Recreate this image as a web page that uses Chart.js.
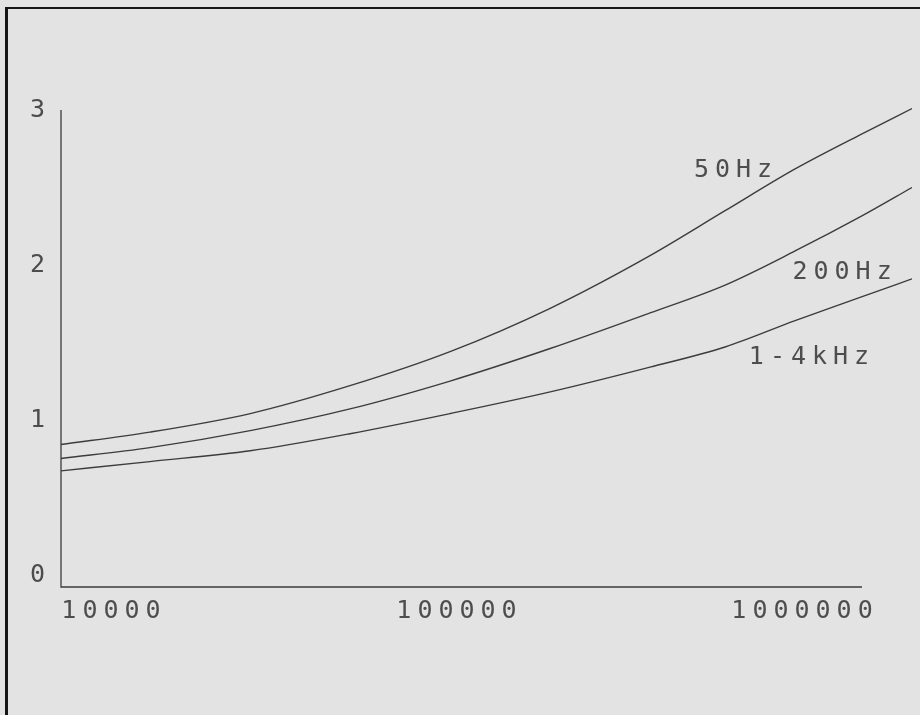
<!DOCTYPE html>
<html>
<head>
<meta charset="utf-8">
<script src="https://cdn.jsdelivr.net/npm/chart.js@4.4.1/dist/chart.umd.min.js"></script>
<style>
  html, body { margin: 0; padding: 0; background: #e3e3e3; }
  #wrap { position: relative; width: 920px; height: 715px; overflow: hidden; }
  #frame { position: absolute; left: 5px; top: 7px; width: 930px; height: 730px;
           border-left: 3px solid #151515; border-top: 2px solid #151515; }
  #c { position: absolute; left: 0; top: 0; }
</style>
</head>
<body>
<div id="wrap">
  <div id="frame"></div>
  <canvas id="c" width="920" height="715"></canvas>
</div>
<script>
// Frequency (x, log) sample points
const xValues = [7025, 12700, 24800, 48200, 93900, 183000, 356000, 587000, 936000, 1443000, 2040000];

// One curve per test frequency
const series50Hz  = [0.92, 1.00, 1.12, 1.30, 1.52, 1.80, 2.14, 2.43, 2.70, 2.92, 3.09];
const series200Hz = [0.83, 0.90, 1.01, 1.15, 1.33, 1.54, 1.77, 1.95, 2.17, 2.39, 2.58];
const series1to4k = [0.75, 0.81, 0.88, 0.99, 1.12, 1.26, 1.42, 1.55, 1.72, 1.87, 1.99];

const seriesNames = ['50Hz', '200Hz', '1-4kHz'];

// Tick values
const xTicks = [10000, 100000, 1000000];
const yTicks = [0, 1, 2, 3];

// Curve captions, placed in data coordinates
const captionX = [619000, 1280000, 1027000];
const captionY = [2.69, 2.03, 1.48];

// Extent of the drawn axis lines
const AXIS_X_END = 1462000;
const AXIS_Y_TOP = 3.08;

const INK = '#3c3c3c';
const TEXT = '#4d4d4d';
const FONT = "'DejaVu Sans Mono', monospace";

const toPoints = (ys) => ys.map((y, i) => ({ x: xValues[i], y }));

const spacing = {
  id: 'spacing',
  beforeDraw(chart) { chart.ctx.letterSpacing = '6px'; }
};

const axisLines = {
  id: 'axisLines',
  beforeDatasetsDraw(chart) {
    const { ctx, scales: { x, y } } = chart;
    const left = x.getPixelForValue(x.min);
    const bottom = y.getPixelForValue(0);
    ctx.save();
    ctx.strokeStyle = INK;
    ctx.lineWidth = 1.3;
    ctx.beginPath();
    ctx.moveTo(left, y.getPixelForValue(AXIS_Y_TOP));
    ctx.lineTo(left, bottom);
    ctx.lineTo(x.getPixelForValue(AXIS_X_END), bottom);
    ctx.stroke();
    ctx.restore();
  }
};

const captions = {
  id: 'captions',
  afterDatasetsDraw(chart) {
    const { ctx, scales: { x, y } } = chart;
    ctx.save();
    ctx.fillStyle = TEXT;
    ctx.font = "25px " + FONT;
    ctx.letterSpacing = '6px';
    ctx.textAlign = 'center';
    ctx.textBaseline = 'middle';
    seriesNames.forEach((name, i) => {
      ctx.fillText(name, x.getPixelForValue(captionX[i]) + 3, y.getPixelForValue(captionY[i]));
    });
    ctx.restore();
  }
};

const lineStyle = {
  borderColor: INK,
  borderWidth: 1.4,
  pointRadius: 0,
  fill: false,
  cubicInterpolationMode: 'monotone'
};

new Chart(document.getElementById('c'), {
  type: 'line',
  data: {
    datasets: [
      { label: seriesNames[0], data: toPoints(series50Hz), ...lineStyle },
      { label: seriesNames[1], data: toPoints(series200Hz), ...lineStyle },
      { label: seriesNames[2], data: toPoints(series1to4k), ...lineStyle }
    ]
  },
  options: {
    responsive: false,
    animation: false,
    devicePixelRatio: 1,
    layout: { padding: { top: 76, right: 8, left: 0, bottom: 0 } },
    plugins: { legend: { display: false }, tooltip: { enabled: false } },
    scales: {
      x: {
        type: 'logarithmic',
        min: 7025,
        max: 2040000,
        border: { display: false },
        grid: { display: false, drawTicks: false },
        afterBuildTicks: (s) => { s.ticks = xTicks.map(v => ({ value: v })); },
        afterFit: (s) => { s.height = 128; },
        ticks: {
          autoSkip: false,
          maxRotation: 0,
          padding: 9,
          color: TEXT,
          font: { family: FONT, size: 25 },
          callback: (v) => String(v)
        }
      },
      y: {
        min: 0,
        max: 3.3,
        border: { display: false },
        grid: { display: false, drawTicks: false },
        afterBuildTicks: (s) => { s.ticks = yTicks.map(v => ({ value: v })); },
        afterFit: (s) => { s.width = 61; },
        ticks: {
          padding: 10,
          labelOffset: -12,
          color: TEXT,
          font: { family: FONT, size: 25 },
          callback: (v) => String(v)
        }
      }
    }
  },
  plugins: [spacing, axisLines, captions]
});
</script>
</body>
</html>
